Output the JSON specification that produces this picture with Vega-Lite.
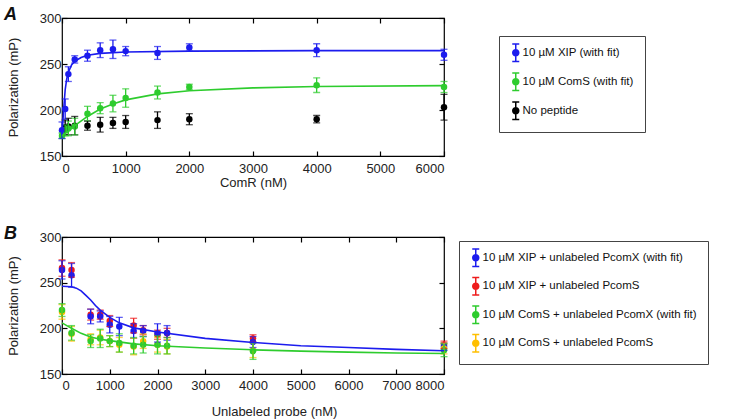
{
  "$schema": "https://vega.github.io/schema/vega-lite/v6.json",
  "padding": {"left": 3, "top": 5, "right": 305, "bottom": 2},
  "background": "white",
  "spacing": 81,
  "bounds": "flush",
  "resolve": {"scale": {"color": "independent", "x": "independent", "y": "independent"}, "legend": {"color": "independent"}},
  "config": {
    "font": "Liberation Sans",
    "view": {"stroke": "#000000", "strokeWidth": 1.2},
    "axis": {"domain": false, "grid": false, "tickColor": "#000000", "tickWidth": 1.2, "tickSize": -5, "labelFont": "Liberation Sans", "labelFontSize": 13, "labelColor": "#222222", "titleFont": "Liberation Sans", "titleFontSize": 13, "titleFontWeight": "normal", "titleColor": "#222222", "format": "d"},
    "legend": {"labelFont": "Liberation Sans", "labelFontSize": 11.5, "labelColor": "#111111", "labelLimit": 400, "strokeColor": "#444444", "fillColor": "white", "cornerRadius": 0, "symbolStrokeWidth": 0, "symbolSize": 100}
  },
  "datasets": {
    "a_pts": [
      {"s": "No peptide", "x": 50, "y": 181, "e": 8},
      {"s": "No peptide", "x": 100, "y": 182, "e": 9},
      {"s": "No peptide", "x": 200, "y": 183, "e": 10},
      {"s": "No peptide", "x": 400, "y": 183, "e": 5},
      {"s": "No peptide", "x": 600, "y": 184, "e": 8},
      {"s": "No peptide", "x": 800, "y": 186, "e": 6},
      {"s": "No peptide", "x": 1000, "y": 187, "e": 7},
      {"s": "No peptide", "x": 1500, "y": 189, "e": 9},
      {"s": "No peptide", "x": 2000, "y": 190, "e": 6},
      {"s": "No peptide", "x": 4000, "y": 190, "e": 4},
      {"s": "No peptide", "x": 6000, "y": 203, "e": 14},
      {"s": "10 µM ComS (with fit)", "x": 0, "y": 172, "e": 3},
      {"s": "10 µM ComS (with fit)", "x": 50, "y": 178, "e": 6},
      {"s": "10 µM ComS (with fit)", "x": 100, "y": 180, "e": 8},
      {"s": "10 µM ComS (with fit)", "x": 200, "y": 182, "e": 9},
      {"s": "10 µM ComS (with fit)", "x": 400, "y": 196, "e": 8},
      {"s": "10 µM ComS (with fit)", "x": 600, "y": 202, "e": 6},
      {"s": "10 µM ComS (with fit)", "x": 800, "y": 207, "e": 9},
      {"s": "10 µM ComS (with fit)", "x": 1000, "y": 213, "e": 10},
      {"s": "10 µM ComS (with fit)", "x": 1500, "y": 219, "e": 7},
      {"s": "10 µM ComS (with fit)", "x": 2000, "y": 225, "e": 3},
      {"s": "10 µM ComS (with fit)", "x": 4000, "y": 227, "e": 8},
      {"s": "10 µM ComS (with fit)", "x": 6000, "y": 225, "e": 6},
      {"s": "10 µM XIP (with fit)", "x": 0, "y": 178, "e": 9},
      {"s": "10 µM XIP (with fit)", "x": 50, "y": 201, "e": 11},
      {"s": "10 µM XIP (with fit)", "x": 100, "y": 239, "e": 8},
      {"s": "10 µM XIP (with fit)", "x": 200, "y": 255, "e": 4},
      {"s": "10 µM XIP (with fit)", "x": 400, "y": 259, "e": 6},
      {"s": "10 µM XIP (with fit)", "x": 600, "y": 265, "e": 8},
      {"s": "10 µM XIP (with fit)", "x": 800, "y": 266, "e": 10},
      {"s": "10 µM XIP (with fit)", "x": 1000, "y": 264, "e": 5},
      {"s": "10 µM XIP (with fit)", "x": 1500, "y": 262, "e": 7},
      {"s": "10 µM XIP (with fit)", "x": 2000, "y": 268, "e": 4},
      {"s": "10 µM XIP (with fit)", "x": 4000, "y": 265, "e": 7},
      {"s": "10 µM XIP (with fit)", "x": 6000, "y": 260, "e": 6}
    ],
    "a_fit": [
      {"s": "10 µM XIP (with fit)", "x": 0, "y": 172},
      {"s": "10 µM XIP (with fit)", "x": 25, "y": 200},
      {"s": "10 µM XIP (with fit)", "x": 50, "y": 222},
      {"s": "10 µM XIP (with fit)", "x": 75, "y": 234},
      {"s": "10 µM XIP (with fit)", "x": 100, "y": 241},
      {"s": "10 µM XIP (with fit)", "x": 150, "y": 249},
      {"s": "10 µM XIP (with fit)", "x": 200, "y": 253},
      {"s": "10 µM XIP (with fit)", "x": 300, "y": 257},
      {"s": "10 µM XIP (with fit)", "x": 400, "y": 259.5},
      {"s": "10 µM XIP (with fit)", "x": 600, "y": 261.5},
      {"s": "10 µM XIP (with fit)", "x": 1000, "y": 263},
      {"s": "10 µM XIP (with fit)", "x": 2000, "y": 264},
      {"s": "10 µM XIP (with fit)", "x": 4000, "y": 264.5},
      {"s": "10 µM XIP (with fit)", "x": 6000, "y": 264.5},
      {"s": "10 µM ComS (with fit)", "x": 0, "y": 172},
      {"s": "10 µM ComS (with fit)", "x": 100, "y": 177},
      {"s": "10 µM ComS (with fit)", "x": 200, "y": 183},
      {"s": "10 µM ComS (with fit)", "x": 400, "y": 193},
      {"s": "10 µM ComS (with fit)", "x": 600, "y": 201},
      {"s": "10 µM ComS (with fit)", "x": 800, "y": 206.5},
      {"s": "10 µM ComS (with fit)", "x": 1000, "y": 211},
      {"s": "10 µM ComS (with fit)", "x": 1500, "y": 217.5},
      {"s": "10 µM ComS (with fit)", "x": 2000, "y": 221},
      {"s": "10 µM ComS (with fit)", "x": 3000, "y": 224},
      {"s": "10 µM ComS (with fit)", "x": 4000, "y": 225.5},
      {"s": "10 µM ComS (with fit)", "x": 6000, "y": 226.5}
    ],
    "b_pts": [
      {"s": "10 µM XIP + unlabeled PcomS", "x": 0, "y": 266, "e": 9},
      {"s": "10 µM XIP + unlabeled PcomS", "x": 200, "y": 264, "e": 8},
      {"s": "10 µM XIP + unlabeled PcomS", "x": 600, "y": 215, "e": 6},
      {"s": "10 µM XIP + unlabeled PcomS", "x": 800, "y": 215, "e": 5},
      {"s": "10 µM XIP + unlabeled PcomS", "x": 1000, "y": 208, "e": 6},
      {"s": "10 µM XIP + unlabeled PcomS", "x": 1500, "y": 203, "e": 8},
      {"s": "10 µM XIP + unlabeled PcomS", "x": 1700, "y": 198, "e": 5},
      {"s": "10 µM XIP + unlabeled PcomS", "x": 2000, "y": 193, "e": 5},
      {"s": "10 µM XIP + unlabeled PcomS", "x": 2200, "y": 195, "e": 5},
      {"s": "10 µM XIP + unlabeled PcomS", "x": 4000, "y": 189, "e": 4},
      {"s": "10 µM XIP + unlabeled PcomS", "x": 8000, "y": 182, "e": 4},
      {"s": "10 µM XIP + unlabeled PcomX (with fit)", "x": 0, "y": 264, "e": 10},
      {"s": "10 µM XIP + unlabeled PcomX (with fit)", "x": 200, "y": 258, "e": 13},
      {"s": "10 µM XIP + unlabeled PcomX (with fit)", "x": 600, "y": 213, "e": 8},
      {"s": "10 µM XIP + unlabeled PcomX (with fit)", "x": 800, "y": 213, "e": 6},
      {"s": "10 µM XIP + unlabeled PcomX (with fit)", "x": 1000, "y": 204, "e": 9},
      {"s": "10 µM XIP + unlabeled PcomX (with fit)", "x": 1200, "y": 202, "e": 10},
      {"s": "10 µM XIP + unlabeled PcomX (with fit)", "x": 1500, "y": 197, "e": 8},
      {"s": "10 µM XIP + unlabeled PcomX (with fit)", "x": 1700, "y": 197, "e": 6},
      {"s": "10 µM XIP + unlabeled PcomX (with fit)", "x": 2000, "y": 195, "e": 10},
      {"s": "10 µM XIP + unlabeled PcomX (with fit)", "x": 2200, "y": 195, "e": 8},
      {"s": "10 µM XIP + unlabeled PcomX (with fit)", "x": 4000, "y": 185, "e": 6},
      {"s": "10 µM XIP + unlabeled PcomX (with fit)", "x": 8000, "y": 180, "e": 4},
      {"s": "10 µM ComS + unlabeled PcomS", "x": 0, "y": 218, "e": 8},
      {"s": "10 µM ComS + unlabeled PcomS", "x": 200, "y": 194, "e": 8},
      {"s": "10 µM ComS + unlabeled PcomS", "x": 600, "y": 188, "e": 6},
      {"s": "10 µM ComS + unlabeled PcomS", "x": 800, "y": 190, "e": 8},
      {"s": "10 µM ComS + unlabeled PcomS", "x": 1000, "y": 186, "e": 6},
      {"s": "10 µM ComS + unlabeled PcomS", "x": 1200, "y": 182, "e": 8},
      {"s": "10 µM ComS + unlabeled PcomS", "x": 1500, "y": 180, "e": 9},
      {"s": "10 µM ComS + unlabeled PcomS", "x": 1700, "y": 186, "e": 8},
      {"s": "10 µM ComS + unlabeled PcomS", "x": 2000, "y": 182, "e": 8},
      {"s": "10 µM ComS + unlabeled PcomS", "x": 2200, "y": 180, "e": 8},
      {"s": "10 µM ComS + unlabeled PcomS", "x": 4000, "y": 176, "e": 8},
      {"s": "10 µM ComS + unlabeled PcomS", "x": 8000, "y": 178, "e": 6},
      {"s": "10 µM ComS + unlabeled PcomX (with fit)", "x": 0, "y": 220, "e": 7},
      {"s": "10 µM ComS + unlabeled PcomX (with fit)", "x": 200, "y": 195, "e": 8},
      {"s": "10 µM ComS + unlabeled PcomX (with fit)", "x": 600, "y": 186, "e": 7},
      {"s": "10 µM ComS + unlabeled PcomX (with fit)", "x": 800, "y": 189, "e": 10},
      {"s": "10 µM ComS + unlabeled PcomX (with fit)", "x": 1000, "y": 186, "e": 6},
      {"s": "10 µM ComS + unlabeled PcomX (with fit)", "x": 1200, "y": 184, "e": 10},
      {"s": "10 µM ComS + unlabeled PcomX (with fit)", "x": 1500, "y": 181, "e": 9},
      {"s": "10 µM ComS + unlabeled PcomX (with fit)", "x": 1700, "y": 182, "e": 9},
      {"s": "10 µM ComS + unlabeled PcomX (with fit)", "x": 2000, "y": 182, "e": 10},
      {"s": "10 µM ComS + unlabeled PcomX (with fit)", "x": 2200, "y": 181, "e": 9},
      {"s": "10 µM ComS + unlabeled PcomX (with fit)", "x": 4000, "y": 175, "e": 9},
      {"s": "10 µM ComS + unlabeled PcomX (with fit)", "x": 8000, "y": 176, "e": 7}
    ],
    "b_fit": [
      {"s": "10 µM XIP + unlabeled PcomX (with fit)", "x": 0, "y": 246},
      {"s": "10 µM XIP + unlabeled PcomX (with fit)", "x": 200, "y": 245.5},
      {"s": "10 µM XIP + unlabeled PcomX (with fit)", "x": 300, "y": 244},
      {"s": "10 µM XIP + unlabeled PcomX (with fit)", "x": 400, "y": 241},
      {"s": "10 µM XIP + unlabeled PcomX (with fit)", "x": 500, "y": 236},
      {"s": "10 µM XIP + unlabeled PcomX (with fit)", "x": 600, "y": 231},
      {"s": "10 µM XIP + unlabeled PcomX (with fit)", "x": 700, "y": 225},
      {"s": "10 µM XIP + unlabeled PcomX (with fit)", "x": 800, "y": 220},
      {"s": "10 µM XIP + unlabeled PcomX (with fit)", "x": 1000, "y": 212},
      {"s": "10 µM XIP + unlabeled PcomX (with fit)", "x": 1200, "y": 206},
      {"s": "10 µM XIP + unlabeled PcomX (with fit)", "x": 1500, "y": 200.5},
      {"s": "10 µM XIP + unlabeled PcomX (with fit)", "x": 2000, "y": 196},
      {"s": "10 µM XIP + unlabeled PcomX (with fit)", "x": 3000, "y": 189},
      {"s": "10 µM XIP + unlabeled PcomX (with fit)", "x": 4000, "y": 184.5},
      {"s": "10 µM XIP + unlabeled PcomX (with fit)", "x": 5000, "y": 181},
      {"s": "10 µM XIP + unlabeled PcomX (with fit)", "x": 6000, "y": 179},
      {"s": "10 µM XIP + unlabeled PcomX (with fit)", "x": 7000, "y": 177},
      {"s": "10 µM XIP + unlabeled PcomX (with fit)", "x": 8000, "y": 175.5},
      {"s": "10 µM ComS + unlabeled PcomX (with fit)", "x": 0, "y": 206},
      {"s": "10 µM ComS + unlabeled PcomX (with fit)", "x": 200, "y": 200},
      {"s": "10 µM ComS + unlabeled PcomX (with fit)", "x": 400, "y": 194.5},
      {"s": "10 µM ComS + unlabeled PcomX (with fit)", "x": 600, "y": 190.5},
      {"s": "10 µM ComS + unlabeled PcomX (with fit)", "x": 800, "y": 188},
      {"s": "10 µM ComS + unlabeled PcomX (with fit)", "x": 1000, "y": 186.5},
      {"s": "10 µM ComS + unlabeled PcomX (with fit)", "x": 1500, "y": 183},
      {"s": "10 µM ComS + unlabeled PcomX (with fit)", "x": 2000, "y": 181},
      {"s": "10 µM ComS + unlabeled PcomX (with fit)", "x": 3000, "y": 178.5},
      {"s": "10 µM ComS + unlabeled PcomX (with fit)", "x": 4000, "y": 176.5},
      {"s": "10 µM ComS + unlabeled PcomX (with fit)", "x": 5000, "y": 175},
      {"s": "10 µM ComS + unlabeled PcomX (with fit)", "x": 6000, "y": 174},
      {"s": "10 µM ComS + unlabeled PcomX (with fit)", "x": 7000, "y": 173},
      {"s": "10 µM ComS + unlabeled PcomX (with fit)", "x": 8000, "y": 172.5}
    ]
  },
  "vconcat": [
    {
      "width": 382,
      "height": 138,
      "title": {"text": "A", "anchor": "start", "frame": "group", "dx": -58, "offset": -12, "fontSize": 18, "fontStyle": "italic", "fontWeight": "bold", "color": "#111111", "font": "Liberation Sans"},
      "resolve": {"axis": {"x": "independent", "y": "independent"}},
      "layer": [
        {
          "data": {"name": "a_pts"},
          "mark": {"type": "point", "filled": true, "size": 42, "opacity": 1},
          "encoding": {
            "x": {"field": "x", "type": "quantitative", "scale": {"domain": [0, 6000], "nice": false}, "axis": {"orient": "bottom", "values": [0, 1000, 2000, 3000, 4000, 5000, 6000], "title": "ComR  (nM)", "labelPadding": 11, "titlePadding": 1}},
            "y": {"field": "y", "type": "quantitative", "scale": {"domain": [150, 300], "nice": false, "zero": false}, "axis": {"orient": "left", "values": [150, 200, 250, 300], "title": "Polarization  (mP)", "labelPadding": 6, "titlePadding": 19}},
            "color": {"field": "s", "type": "nominal", "scale": {"domain": ["10 µM XIP (with fit)", "10 µM ComS (with fit)", "No peptide"], "range": ["#1c1cee", "#2ecc2e", "#000000"]},
              "legend": {"title": null, "orient": "none", "legendX": 437, "legendY": 18, "padding": 11, "rowPadding": 9, "labelOffset": 1, "symbolType": "M-0.15,-1.75H0.15V1.75H-0.15ZM-0.7,-1.9H0.7V-1.6H-0.7ZM-0.7,1.6H0.7V1.9H-0.7ZM0.75,0A0.75,0.75,0,1,1,-0.75,0A0.75,0.75,0,1,1,0.75,0Z", "symbolStrokeWidth": 0, "symbolSize": 100}}
          }
        },
        {
          "data": {"name": "a_pts"},
          "mark": {"type": "errorbar", "ticks": {"size": 7}, "thickness": 1.3},
          "encoding": {
            "x": {"field": "x", "type": "quantitative", "axis": {"orient": "top", "values": [0, 1000, 2000, 3000, 4000, 5000, 6000], "labels": false, "title": null}},
            "y": {"field": "y", "type": "quantitative", "axis": {"orient": "right", "values": [150, 200, 250, 300], "labels": false, "title": null}},
            "yError": {"field": "e"},
            "color": {"field": "s", "type": "nominal"}
          }
        },
        {
          "data": {"name": "a_fit"},
          "mark": {"type": "line", "strokeWidth": 1.6},
          "encoding": {
            "x": {"field": "x", "type": "quantitative", "axis": null},
            "y": {"field": "y", "type": "quantitative", "axis": null},
            "color": {"field": "s", "type": "nominal"}
          }
        }
      ]
    },
    {
      "width": 382,
      "height": 137,
      "title": {"text": "B", "anchor": "start", "frame": "group", "dx": -58, "offset": -12, "fontSize": 18, "fontStyle": "italic", "fontWeight": "bold", "color": "#111111", "font": "Liberation Sans"},
      "resolve": {"axis": {"x": "independent", "y": "independent"}},
      "layer": [
        {
          "data": {"name": "b_pts"},
          "mark": {"type": "point", "filled": true, "size": 42, "opacity": 1},
          "encoding": {
            "x": {"field": "x", "type": "quantitative", "scale": {"domain": [0, 8000], "nice": false}, "axis": {"orient": "bottom", "values": [0, 1000, 2000, 3000, 4000, 5000, 6000, 7000, 8000], "title": "Unlabeled probe    (nM)", "labelPadding": 10, "titlePadding": 13, "titleX": 212}},
            "y": {"field": "y", "type": "quantitative", "scale": {"domain": [150, 300], "nice": false, "zero": false}, "axis": {"orient": "left", "values": [150, 200, 250, 300], "title": "Polarization  (mP)", "labelPadding": 6, "titlePadding": 19}},
            "color": {"field": "s", "type": "nominal", "scale": {"domain": ["10 µM XIP + unlabeled PcomX (with fit)", "10 µM XIP + unlabeled PcomS", "10 µM ComS + unlabeled PcomX (with fit)", "10 µM ComS + unlabeled PcomS"], "range": ["#1c1cee", "#ee1c1c", "#2ecc2e", "#ffbf00"]},
              "legend": {"title": null, "orient": "none", "legendX": 397, "legendY": 4, "padding": 11, "rowPadding": 8.5, "labelOffset": 1, "labelExpr": "datum.label + '\u00a0\u00a0\u00a0\u00a0\u00a0\u00a0\u00a0\u00a0\u00a0\u00a0\u00a0\u00a0\u00a0'", "symbolType": "M-0.15,-1.75H0.15V1.75H-0.15ZM-0.7,-1.9H0.7V-1.6H-0.7ZM-0.7,1.6H0.7V1.9H-0.7ZM0.75,0A0.75,0.75,0,1,1,-0.75,0A0.75,0.75,0,1,1,0.75,0Z", "symbolStrokeWidth": 0, "symbolSize": 100}}
          }
        },
        {
          "data": {"name": "b_pts"},
          "mark": {"type": "errorbar", "ticks": {"size": 7}, "thickness": 1.3},
          "encoding": {
            "x": {"field": "x", "type": "quantitative", "axis": {"orient": "top", "values": [0, 1000, 2000, 3000, 4000, 5000, 6000, 7000, 8000], "labels": false, "title": null}},
            "y": {"field": "y", "type": "quantitative", "axis": {"orient": "right", "values": [150, 200, 250, 300], "labels": false, "title": null}},
            "yError": {"field": "e"},
            "color": {"field": "s", "type": "nominal"}
          }
        },
        {
          "data": {"name": "b_fit"},
          "mark": {"type": "line", "strokeWidth": 1.6},
          "encoding": {
            "x": {"field": "x", "type": "quantitative", "axis": null},
            "y": {"field": "y", "type": "quantitative", "axis": null},
            "color": {"field": "s", "type": "nominal"}
          }
        }
      ]
    }
  ]
}
